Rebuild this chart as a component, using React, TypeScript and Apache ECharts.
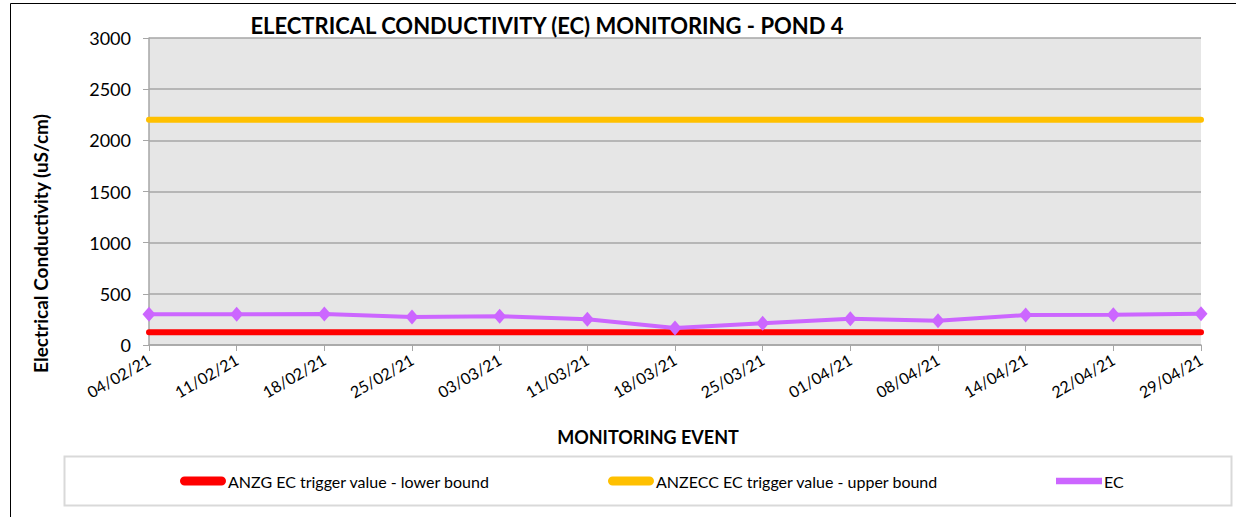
import React, { useEffect, useRef } from "react";
import * as echarts from "echarts";

const categories = ["04/02/21", "11/02/21", "18/02/21", "25/02/21", "03/03/21", "11/03/21", "18/03/21", "25/03/21", "01/04/21", "08/04/21", "14/04/21", "22/04/21", "29/04/21"];
const lowerBound = [125, 125, 125, 125, 125, 125, 125, 125, 125, 125, 125, 125, 125];
const upperBound = [2200, 2200, 2200, 2200, 2200, 2200, 2200, 2200, 2200, 2200, 2200, 2200, 2200];
const ecValues = [300, 300, 303, 274, 281, 251, 166, 212, 257, 238, 293, 296, 306];
const yTicks = [0, 500, 1000, 1500, 2000, 2500, 3000];
const seriesNames = ["ANZG EC trigger value - lower bound", "ANZECC EC trigger value - upper bound", "EC"];

const FONT = "Lato, 'Open Sans', sans-serif";

const legendItem = (name: string, left: number, thin: boolean) => ({
  left,
  top: 473,
  padding: 0,
  itemWidth: 46,
  itemHeight: 14,
  itemGap: 0,
  textStyle: { fontFamily: FONT, fontSize: 16, color: "#000", padding: [0, 0, 0, -3] },
  data: [{ name, icon: thin ? "path://M0,0 L10,0 L10,1.4 L0,1.4 Z" : "path://M1,0 L9,0 A1,1 0 0 1 9,2 L1,2 A1,1 0 0 1 1,0 Z" }],
});

export default function App() {
  const ref = useRef<HTMLDivElement>(null);
  useEffect(() => {
    const chart = echarts.init(ref.current!, undefined, { renderer: "svg" });
    chart.setOption({
      animation: false,
      backgroundColor: "#ffffff",
      textStyle: { fontFamily: FONT },
      title: {
        text: "ELECTRICAL CONDUCTIVITY (EC) MONITORING - POND 4",
        left: 542,
        textAlign: "center",
        top: 9,
        textStyle: { fontFamily: FONT, fontSize: 22, fontWeight: "bold", color: "#000" },
      },
      grid: { left: 149, right: 35, top: 38, bottom: 172, show: true, backgroundColor: "#e6e6e6", borderWidth: 0 },
      legend: [
        legendItem(seriesNames[0], 180, false),
        legendItem(seriesNames[1], 608, false),
        legendItem(seriesNames[2], 1056, true),
      ],
      graphic: [
        { type: "rect", shape: { x: 10.5, y: 3.5, width: 1240, height: 530 }, style: { fill: "none", stroke: "#000", lineWidth: 1 }, z: 100 },
        { type: "rect", shape: { x: 64.5, y: 456.5, width: 1167, height: 49 }, style: { fill: "none", stroke: "#d9d9d9", lineWidth: 2 }, z: 100 },
      ],
      xAxis: {
        type: "category",
        data: categories,
        boundaryGap: false,
        name: "MONITORING EVENT",
        nameLocation: "middle",
        nameGap: 83,
        nameTextStyle: { fontFamily: FONT, fontSize: 18, fontWeight: "bold", color: "#000", padding: [0, 54, 0, 0] },
        axisLine: { lineStyle: { color: "#a6a6a6", width: 1.5 } },
        axisTick: { show: true, interval: 0, length: 6, lineStyle: { color: "#a6a6a6" } },
        axisLabel: { interval: 0, rotate: 30, fontSize: 16, color: "#000", fontFamily: FONT, margin: 13 },
        splitLine: { show: false },
      },
      yAxis: {
        type: "value",
        min: 0,
        max: 3000,
        interval: 500,
        name: "Electrical Conductivity (uS/cm)",
        nameLocation: "middle",
        nameGap: 99,
        nameTextStyle: { fontFamily: FONT, fontSize: 19, fontWeight: "bold", color: "#000", padding: [0, 104, 0, 0] },
        axisLine: { show: true, lineStyle: { color: "#a6a6a6", width: 1.5 } },
        axisTick: { show: true, length: 6, lineStyle: { color: "#a6a6a6" } },
        axisLabel: {
          fontSize: 18,
          color: "#000",
          fontFamily: FONT,
          margin: 18,
          formatter: (v: number) => (yTicks.includes(v) ? String(v) : ""),
        },
        splitLine: { show: true, lineStyle: { color: "#a6a6a6", width: 1.5 } },
      },
      series: [
        {
          name: seriesNames[0],
          type: "line",
          data: lowerBound,
          symbol: "none",
          color: "#ff0000",
          lineStyle: { color: "#ff0000", width: 6, cap: "round" },
          z: 3,
        },
        {
          name: seriesNames[1],
          type: "line",
          data: upperBound,
          symbol: "none",
          color: "#ffc000",
          lineStyle: { color: "#ffc000", width: 6, cap: "round" },
          z: 3,
        },
        {
          name: seriesNames[2],
          type: "line",
          data: ecValues,
          symbol: "diamond",
          symbolSize: [13, 15],
          color: "#cc66ff",
          itemStyle: { color: "#cc66ff" },
          lineStyle: { color: "#cc66ff", width: 4 },
          z: 4,
        },
      ],
    });
    return () => chart.dispose();
  }, []);
  return <div ref={ref} style={{ position: "fixed", left: 0, top: 0, width: 1236, height: 517 }} />;
}
